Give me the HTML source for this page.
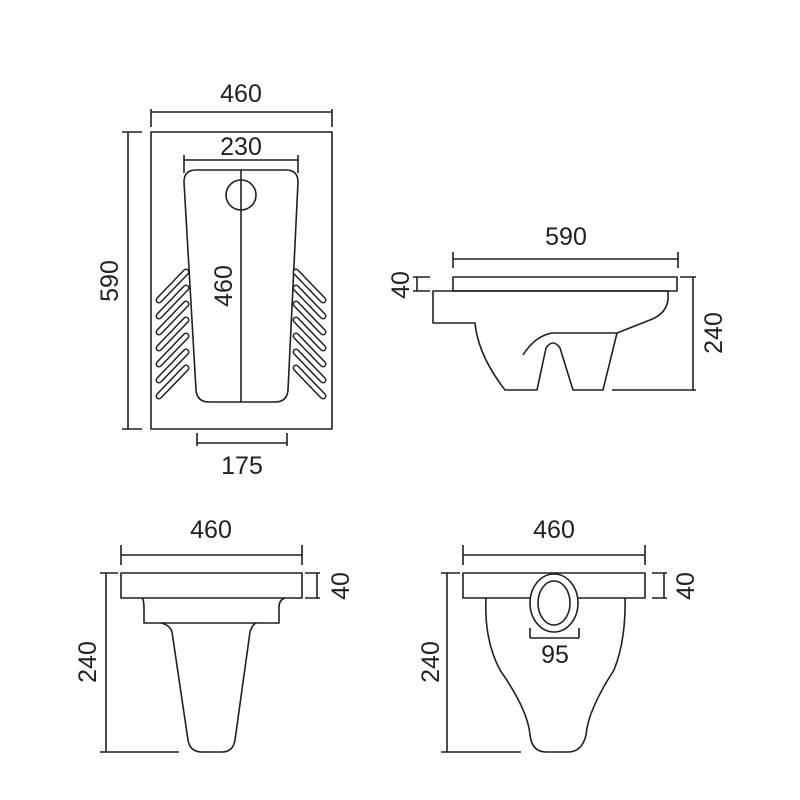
<!DOCTYPE html>
<html><head><meta charset="utf-8"><style>html,body{margin:0;background:#fff}svg{display:block}text{font-family:"Liberation Sans",sans-serif;font-size:25px;fill:#231f20;text-anchor:middle}</style></head><body>
<svg width="800" height="800" viewBox="0 0 800 800" xmlns="http://www.w3.org/2000/svg">
<g fill="none" stroke="#231f20" stroke-width="1.6" stroke-linejoin="round">
<path d="M151 109V127M332 109V127M151 112H332"/>
<rect x="151" y="132" width="181" height="297"/>
<path d="M122 132H142M122 429H142M128 132V429"/>
<path d="M184 155V173M298 155V173M184 160H298"/>
<path d="M196 170H286Q298 170 298 182L288 390Q287 402 275 402H209Q197 402 196 390L184 182Q184 170 196 170Z"/>
<path d="M241 170V402"/>
<circle cx="241" cy="195" r="15"/>
<path d="M197 433V446M287 433V446M197 443H287"/>
<g stroke-width="7" stroke-linecap="round">
<path d="M159 300L186 272M159 316L186 288M159 332L186 304M159 348L186 320M159 364L186 336M159 380L186 352M159 396L186 368"/>
<path d="M296 272L323 300M296 288L323 316M296 304L323 332M296 320L323 348M296 336L323 364M296 352L323 380M296 368L323 396"/>
</g>
<g stroke="#fff" stroke-width="4" stroke-linecap="round">
<path d="M159 300L186 272M159 316L186 288M159 332L186 304M159 348L186 320M159 364L186 336M159 380L186 352M159 396L186 368"/>
<path d="M296 272L323 300M296 288L323 316M296 304L323 332M296 320L323 348M296 336L323 364M296 352L323 380M296 368L323 396"/>
</g>
<path d="M453 252V268M678 252V268M453 259H678"/>
<rect x="453" y="277" width="224" height="14"/>
<path d="M413 277H430M413 291H430M417 277V291"/>
<path d="M433 291H668V300Q666 314 650 320L617 333L603 390H573L560 348Q553 338 546 348L537 390H505Q478 355 475 323H433Z"/>
<path d="M523 355Q535 336 552 333H617"/>
<path d="M680 277H696M612 390H696M693 277V390"/>
<path d="M121 545V565M302 545V565M121 555H302"/>
<rect x="121" y="573" width="181" height="25"/>
<path d="M305 573H320M305 598H320M317 573V598"/>
<path d="M142 598Q144 600 144 609V623H279V607Q279 600 285 598"/>
<path d="M161 623Q170 625 172 632L188 740Q190 752 202 752H222Q233 752 235 740L250 632Q252 625 256 623"/>
<path d="M100 573H118M100 752H179M106 573V752"/>
<path d="M463 545V565M645 545V565M463 555H645"/>
<rect x="463" y="573" width="182" height="25"/>
<path d="M652 573H667M652 598H667M664 573V598"/>
<path d="M486 598Q484 640 500 670Q528 710 530 735Q532 752 546 752H568Q582 752 586 735Q588 710 614 670Q626 640 625 598"/>
<ellipse cx="554" cy="603" rx="24" ry="29" fill="#fff"/>
<ellipse cx="554" cy="603" rx="16" ry="22"/>
<path d="M530 628V638M579 628V638M530 638H579"/>
<path d="M441 573H460M441 752H521M447 573V752"/>
</g>
<text x="241" y="102">460</text>
<text x="241" y="155">230</text>
<text x="242" y="474">175</text>
<text transform="translate(118 281) rotate(-90)">590</text>
<text transform="translate(232 286) rotate(-90)">460</text>
<text x="566" y="245">590</text>
<text transform="translate(409 285) rotate(-90)">40</text>
<text transform="translate(722 333) rotate(-90)">240</text>
<text x="211" y="538">460</text>
<text transform="translate(349 586) rotate(-90)">40</text>
<text transform="translate(96 662) rotate(-90)">240</text>
<text x="554" y="538">460</text>
<text transform="translate(694 586) rotate(-90)">40</text>
<text transform="translate(439 662) rotate(-90)">240</text>
<text x="555" y="663">95</text>
</svg>
</body></html>
